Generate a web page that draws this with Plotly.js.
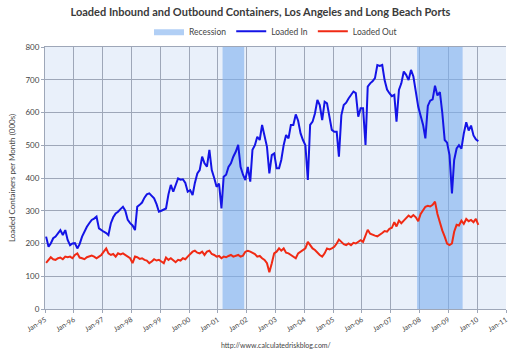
<!DOCTYPE html>
<html>
<head>
<meta charset="utf-8">
<script src="https://cdn.plot.ly/plotly-3.0.1.min.js"></script>
<style>html,body{margin:0;padding:0;background:#fff}#chart{width:521px;height:356px}</style>
</head>
<body>
<div id="chart"></div>
<script>
// Monthly series, Jan 1995 .. Jan 2010 (thousands of containers)
const startYear = 1995;
const loadedIn = [
  221,190,200,216,221,230,241,226,241,211,195,200,
  201,185,198,221,238,251,262,272,276,282,246,240,
  236,232,226,262,280,292,297,305,312,300,272,262,
  255,241,312,318,325,340,350,353,345,338,320,297,
  300,303,307,350,379,358,380,399,395,396,385,358,
  363,348,385,414,424,465,445,435,486,424,400,373,
  383,307,404,410,434,445,465,480,501,434,410,394,
  434,389,486,500,526,516,562,530,495,414,470,475,
  430,430,455,501,531,521,562,562,594,575,536,516,
  500,394,562,572,597,638,623,577,633,628,590,547,
  541,541,465,592,623,630,643,655,664,659,587,613,
  613,501,679,689,695,705,745,742,745,699,670,659,
  650,654,572,669,689,725,715,699,730,710,664,618,
  590,562,521,620,636,640,682,652,662,600,516,508,
  470,353,455,490,500,490,536,570,545,560,530,518,
  512
];
const loadedOut = [
  141,150,158,152,150,155,157,152,160,158,160,155,
  165,170,157,155,152,158,160,163,160,155,160,165,
  175,185,170,165,168,160,170,167,170,165,160,155,
  140,160,158,153,155,150,148,140,145,152,148,150,
  145,140,157,150,155,148,143,150,148,155,152,160,
  167,175,178,172,170,175,165,175,178,168,165,160,
  162,155,160,158,162,165,160,162,165,160,163,175,
  178,175,172,168,160,162,155,150,140,112,140,170,
  175,185,178,185,172,170,165,160,155,170,175,178,
  185,205,195,185,180,172,165,160,170,185,182,185,
  190,200,212,205,198,195,200,195,202,200,206,210,
  205,222,242,230,226,224,222,226,232,238,236,245,
  248,265,252,270,262,270,277,285,280,287,280,268,
  290,300,312,315,313,318,328,290,262,240,221,200,
  195,200,236,257,255,270,260,275,268,272,265,275,
  257
];
const recessionStart = ['2001-03-01','2007-12-01'];
const recessionEnd   = ['2001-11-30','2009-06-30'];
const yMax = 800;

const months = loadedIn.map((_, i) => {
  const y = startYear + Math.floor(i / 12);
  const m = (i % 12) + 1;
  return y + '-' + String(m).padStart(2, '0') + '-15';
});

const traces = [];
recessionStart.forEach((s, i) => {
  traces.push({
    x: [s, s, recessionEnd[i], recessionEnd[i], s],
    y: [0, yMax, yMax, 0, 0],
    type: 'scatter', mode: 'lines', fill: 'toself',
    fillcolor: 'rgba(125,175,238,0.6)',
    line: {width: 0, color: 'rgba(125,175,238,0.6)'},
    name: 'Recession', legendgroup: 'rec', showlegend: i === 0,
    hoverinfo: 'skip'
  });
});
traces.push({x: months, y: loadedIn, type: 'scatter', mode: 'lines', name: 'Loaded In',
  line: {color: '#1414e6', width: 2}});
traces.push({x: months, y: loadedOut, type: 'scatter', mode: 'lines', name: 'Loaded Out',
  line: {color: '#f02a14', width: 2}});

const layout = {
  width: 521, height: 356,
  margin: {l: 45, r: 15, t: 47, b: 47},
  paper_bgcolor: '#ffffff',
  plot_bgcolor: '#e9f0fa',
  font: {family: 'Lato, "Open Sans", sans-serif', size: 8, color: '#444'},
  title: {text: 'Loaded Inbound and Outbound Containers, Los Angeles and Long Beach Ports',
    font: {family: 'Lato, "Open Sans", sans-serif', size: 11, color: '#3a3a3a', weight: 'bold'},
    x: 0.5, xanchor: 'center', y: 0.965, yanchor: 'middle', yref: 'container'},
  showlegend: true,
  legend: {orientation: 'h', x: 0.5, xanchor: 'center', y: 1.06, yanchor: 'middle',
    font: {size: 8.5, color: '#444'}, itemwidth: 30, bgcolor: 'rgba(0,0,0,0)', traceorder: 'normal'},
  xaxis: {type: 'date', range: ['1995-01-01', '2011-01-01'], dtick: 'M12', tick0: '1995-01-01',
    tickformat: '%b-%y', tickangle: -32, tickfont: {size: 7, color: '#444'},
    showgrid: true, gridcolor: '#9ea7b8', gridwidth: 1,
    showline: true, linecolor: '#9ea7b8', mirror: true, ticks: 'outside', ticklen: 3, tickcolor: '#9ea7b8',
    zeroline: false, fixedrange: true},
  yaxis: {range: [0, yMax], dtick: 100, tickfont: {size: 8, color: '#444'},
    showgrid: true, gridcolor: '#9ea7b8', gridwidth: 1, zeroline: false,
    showline: true, linecolor: '#9ea7b8', ticks: 'outside', ticklen: 3, tickcolor: '#9ea7b8',
    title: {text: 'Loaded Containers per Month (000s)', font: {size: 8, color: '#444'}, standoff: 8},
    fixedrange: true},
  annotations: [{text: 'http://www.calculatedriskblog.com/', xref: 'paper', yref: 'paper',
    x: 0.5, y: -0.137, xanchor: 'center', yanchor: 'middle', showarrow: false,
    font: {size: 7, color: '#444'}}]
};

Plotly.newPlot('chart', traces, layout, {displayModeBar: false, staticPlot: true});
</script>
</body>
</html>
